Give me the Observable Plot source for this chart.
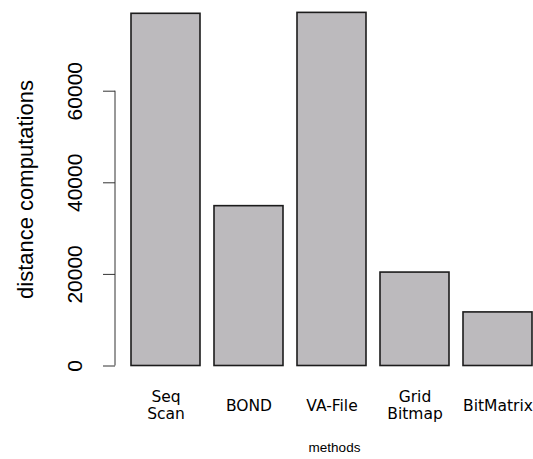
<!DOCTYPE html>
<html><head><meta charset="utf-8">
<script src="https://cdn.jsdelivr.net/npm/d3@7"></script>
<script src="https://cdn.jsdelivr.net/npm/@observablehq/plot@0.6"></script>
<style>
html,body{margin:0;padding:0;background:#fff;overflow:hidden}
#chart svg{display:block;overflow:hidden}
</style></head>
<body><div id="chart"></div>
<script>
const methods = ["Seq\nScan", "BOND", "VA-File", "Grid\nBitmap", "BitMatrix"];
const computations = [76900, 34900, 77100, 20400, 11700];
const yTicks = [0, 20000, 40000, 60000];
const yTitle = "distance computations";
const xTitle = "methods";

const table = methods.map((m, i) => ({method: m, value: computations[i]}));

const plot = Plot.plot({
  width: 533,
  height: 459,
  marginLeft: 115,
  marginRight: -20,
  marginTop: 0,
  marginBottom: 81,
  style: {background: "#fff", color: "#333", overflow: "hidden"},
  x: {domain: methods, range: [124, 540], paddingInner: 1 / 6, paddingOuter: 1 / 12, axis: null},
  y: {domain: [0, 80000], range: [365.5, -0.9], ticks: yTicks, tickSize: 12, tickFormat: () => "", label: null},
  marks: [
    Plot.barY(table, {x: "method", y: "value", fill: "#bcbabd", stroke: "#1c1c1c", strokeWidth: 1.6}),
    Plot.text(yTicks, {y: d => d, text: d => String(d), frameAnchor: "left", textAnchor: "middle",
      lineAnchor: "middle", rotate: -90, dx: -40,
      fontSize: 21, fontFamily: "Liberation Sans, Arial, sans-serif", fill: "#000"}),
    Plot.text([yTitle], {text: d => d, frameAnchor: "left", textAnchor: "middle", lineAnchor: "middle",
      rotate: -90, dx: -90,
      fontSize: 22, fontFamily: "Liberation Sans, Arial, sans-serif", fill: "#000"}),
    Plot.text(table, {x: "method", text: "method", frameAnchor: "bottom", dy: 27, lineAnchor: "middle",
      lineHeight: 1.1, fontSize: 15.5, fontFamily: "DejaVu Sans, sans-serif", fill: "#000"}),
    Plot.text([xTitle], {text: d => d, frameAnchor: "bottom", dy: 73.5,
      fontSize: 13.5, fontFamily: "Liberation Sans, Arial, sans-serif", fill: "#000"})
  ]
});

const ys = plot.scale("y");
d3.select(plot).append("line")
  .attr("x1", 115).attr("x2", 115)
  .attr("y1", ys.apply(yTicks[0])).attr("y2", ys.apply(yTicks[yTicks.length - 1]))
  .attr("stroke", "#333").attr("stroke-width", 1);

document.getElementById("chart").appendChild(plot);
</script>
</body></html>
